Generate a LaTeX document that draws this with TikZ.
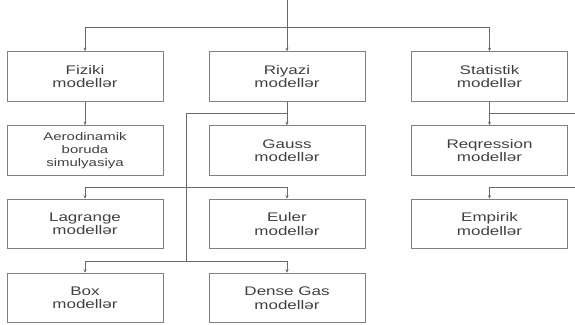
\documentclass[tikz,border=0pt]{standalone}
\usepackage{fontspec}
\setmainfont{Liberation Sans}[FakeStretch=1.36]
\usetikzlibrary{arrows.meta}
\definecolor{txt}{HTML}{404040}
\definecolor{edge}{HTML}{808080}
\definecolor{wire}{HTML}{6A6A6A}
\tikzset{
  mbox/.style={draw=edge, line width=1pt, minimum width=156pt, minimum height=49.5pt,
    inner sep=0pt, align=center, text=txt, font=\fontsize{12.5}{13.5}\selectfont},
  smallbox/.style={mbox, font=\fontsize{11}{13}\selectfont},
  wireline/.style={draw=wire, line width=0.9pt},
  arr/.style={wireline, -{Stealth[length=3.5pt,width=3pt]}}
}
\begin{document}
\begin{tikzpicture}[x=1pt,y=-1pt]
\useasboundingbox (0,0) rectangle (575,324);
% boxes
\node[mbox] (fiz) at (85,76.5) {Fiziki\\modellər};
\node[mbox] (riy) at (287,76.5) {Riyazi\\modellər};
\node[mbox] (sta) at (489.5,76.5) {Statistik\\modellər};
\node[smallbox] (aer) at (85,150.5) {Aerodinamik\\boruda\\simulyasiya};
\node[mbox] (gau) at (287,150.5) {Gauss\\modellər};
\node[mbox] (reg) at (489.5,150.5) {Reqression\\modellər};
\node[mbox] (lag) at (85,224) {Lagrange\\modellər};
\node[mbox] (eul) at (287,224) {Euler\\modellər};
\node[mbox] (emp) at (489.5,224) {Empirik\\modellər};
\node[mbox] (box) at (85,298) {Box\\modellər};
\node[mbox] (den) at (287,298) {Dense Gas\\modellər};
% coordinates
\coordinate (top) at (287,0);
\coordinate (hA) at (287,27);
\coordinate (bR) at (287,113);
\coordinate (bL) at (186,113);
\coordinate (bM) at (186,187);
\coordinate (bB) at (186,261);
\coordinate (sJ) at (489.5,113);
\coordinate (sE) at (575,113);
\coordinate (eE) at (575,187);
% connectors
\draw[arr] (top) -- (riy.north);
\draw[arr] (hA) -| (fiz.north);
\draw[arr] (hA) -| (sta.north);
\draw[arr] (fiz) -- (aer);
\draw[arr] (riy) -- (gau);
\draw[arr] (sta) -- (reg);
\draw[wireline] (bR) -- (bL) -- (bB);
\draw[arr] (bM) -| (lag.north);
\draw[arr] (bM) -| (eul.north);
\draw[arr] (bB) -| (box.north);
\draw[arr] (bB) -| (den.north);
\draw[wireline] (sJ) -- (sE);
\draw[arr] (eE) -| (emp.north);
\end{tikzpicture}
\end{document}
